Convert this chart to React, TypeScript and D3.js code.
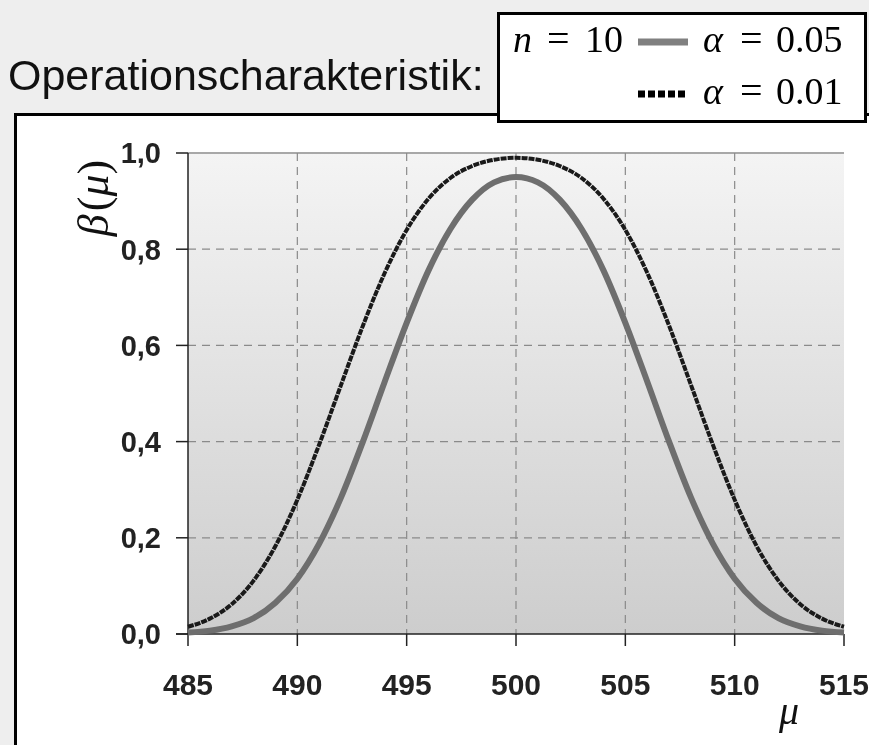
import React from "react";
import * as d3 from "d3";

const muValues = [485, 486, 487, 488, 489, 490, 491, 492, 493, 494, 495, 496, 497, 498, 499, 500, 501, 502, 503, 504, 505, 506, 507, 508, 509, 510, 511, 512, 513, 514, 515];
const beta005 = [0.003, 0.007, 0.016, 0.033, 0.065, 0.115, 0.188, 0.284, 0.4, 0.525, 0.647, 0.756, 0.842, 0.903, 0.939, 0.95, 0.939, 0.903, 0.842, 0.756, 0.647, 0.525, 0.4, 0.284, 0.188, 0.115, 0.065, 0.033, 0.016, 0.007, 0.003];
const beta001 = [0.015, 0.032, 0.062, 0.111, 0.183, 0.279, 0.394, 0.518, 0.641, 0.751, 0.84, 0.905, 0.948, 0.973, 0.986, 0.99, 0.986, 0.973, 0.948, 0.905, 0.84, 0.751, 0.641, 0.518, 0.394, 0.279, 0.183, 0.111, 0.062, 0.032, 0.015];
const xTicks = [485, 490, 495, 500, 505, 510, 515];
const yTicks = [0, 0.2, 0.4, 0.6, 0.8, 1.0];
const yTickLabels = ["0,0", "0,2", "0,4", "0,6", "0,8", "1,0"];

const W = 869;
const H = 745;

export default function App() {
  const x = d3.scaleLinear().domain([485, 515]).range([188, 844]);
  const y = d3.scaleLinear().domain([0, 1]).range([634, 153]);
  const line = d3
    .line<number>()
    .x((_, i) => x(muValues[i]))
    .y((d) => y(d))
    .curve(d3.curveMonotoneX);

  const serif = "'Liberation Serif', 'DejaVu Serif', serif";
  const sans = "'Liberation Sans', Arial, sans-serif";
  const lf = 38;

  return (
    <svg
      width={W}
      height={H}
      style={{ position: "fixed", left: 0, top: 0, display: "block" }}
      xmlns="http://www.w3.org/2000/svg"
    >
      <defs>
        <linearGradient id="plotBg" x1="0" y1="0" x2="0" y2="1">
          <stop offset="0%" stopColor="#f4f4f4" />
          <stop offset="100%" stopColor="#cdcdcd" />
        </linearGradient>
      </defs>
      <rect x={0} y={0} width={W} height={H} fill="#eeeeee" />
      {/* panel */}
      <rect x={15.5} y={114.5} width={W + 10} height={H} fill="#ffffff" stroke="#000" strokeWidth={3} />
      {/* plot background */}
      <rect x={x(485)} y={y(1)} width={x(515) - x(485)} height={y(0) - y(1)} fill="url(#plotBg)" />
      <line x1={x(485)} x2={x(515)} y1={y(1)} y2={y(1)} stroke="#a8a8a8" strokeWidth={2} />
      {/* grid */}
      {yTicks.filter((t) => t > 0 && t < 1).map((t) => (
        <line key={"gy" + t} x1={x(485)} x2={x(515)} y1={y(t)} y2={y(t)} stroke="#8a8a8a" strokeWidth={1.2} strokeDasharray="8,6" />
      ))}
      {xTicks.filter((t) => t > 485 && t < 515).map((t) => (
        <line key={"gx" + t} x1={x(t)} x2={x(t)} y1={y(1)} y2={y(0)} stroke="#8a8a8a" strokeWidth={1.2} strokeDasharray="8,6" />
      ))}
      {/* axes */}
      <line x1={x(485)} x2={x(485)} y1={y(1)} y2={y(0)} stroke="#222" strokeWidth={1.5} />
      <line x1={x(485) - 12} x2={x(515)} y1={y(0)} y2={y(0)} stroke="#222" strokeWidth={1.5} />
      {yTicks.map((t, i) => (
        <g key={"yt" + t}>
          <line x1={x(485) - 12} x2={x(485)} y1={y(t)} y2={y(t)} stroke="#222" strokeWidth={1.5} />
          <text x={161} y={y(t)} dy="0.36em" textAnchor="end" fontFamily={sans} fontWeight="bold" fontSize={29} fill="#222">
            {yTickLabels[i]}
          </text>
        </g>
      ))}
      {xTicks.map((t) => (
        <g key={"xt" + t}>
          <line x1={x(t)} x2={x(t)} y1={y(0)} y2={y(0) + 12} stroke="#222" strokeWidth={1.5} />
          <text x={x(t)} y={695} textAnchor="middle" fontFamily={sans} fontWeight="bold" fontSize={30} fill="#222">
            {t}
          </text>
        </g>
      ))}
      {/* curves */}
      <path d={line(beta005) || ""} fill="none" stroke="#6e6e6e" strokeWidth={6} strokeLinejoin="round" />
      <path d={line(beta001) || ""} fill="none" stroke="#1a1a1a" strokeWidth={4} strokeDasharray="6,1" />
      {/* axis labels */}
      <text transform="translate(108,198) rotate(-90)" textAnchor="middle" fontFamily={serif} fontSize={44} fill="#111">
        <tspan fontStyle="italic">β</tspan>
        <tspan dx={3}>(</tspan>
        <tspan fontStyle="italic">μ</tspan>
        <tspan>)</tspan>
      </text>
      <text x={789} y={724} textAnchor="middle" fontFamily={serif} fontStyle="italic" fontSize={40} fill="#111">
        μ
      </text>
      {/* title */}
      <text x={8} y={90} fontFamily={sans} fontSize={43} fill="#111">
        Operationscharakteristik:
      </text>
      {/* legend */}
      <rect x={498.5} y={13.5} width={367} height={108} fill="#fff" stroke="#000" strokeWidth={3} />
      <text x={513} y={52} fontFamily={serif} fontStyle="italic" fontSize={lf} fill="#000">n</text>
      <text x={547} y={52} fontFamily={serif} fontSize={lf + 2} fill="#000">=</text>
      <text x={585} y={52} fontFamily={serif} fontSize={lf} fill="#000">10</text>
      <line x1={638} x2={688} y1={42} y2={42} stroke="#808080" strokeWidth={7} />
      <text x={703} y={52} fontFamily={serif} fontStyle="italic" fontSize={lf} fill="#000">α</text>
      <text x={740} y={52} fontFamily={serif} fontSize={lf + 2} fill="#000">=</text>
      <text x={776} y={52} fontFamily={serif} fontSize={lf} fill="#000">0.05</text>
      <line x1={638} x2={688} y1={94} y2={94} stroke="#000" strokeWidth={7} strokeDasharray="7,3" />
      <text x={703} y={104} fontFamily={serif} fontStyle="italic" fontSize={lf} fill="#000">α</text>
      <text x={740} y={104} fontFamily={serif} fontSize={lf + 2} fill="#000">=</text>
      <text x={776} y={104} fontFamily={serif} fontSize={lf} fill="#000">0.01</text>
    </svg>
  );
}
